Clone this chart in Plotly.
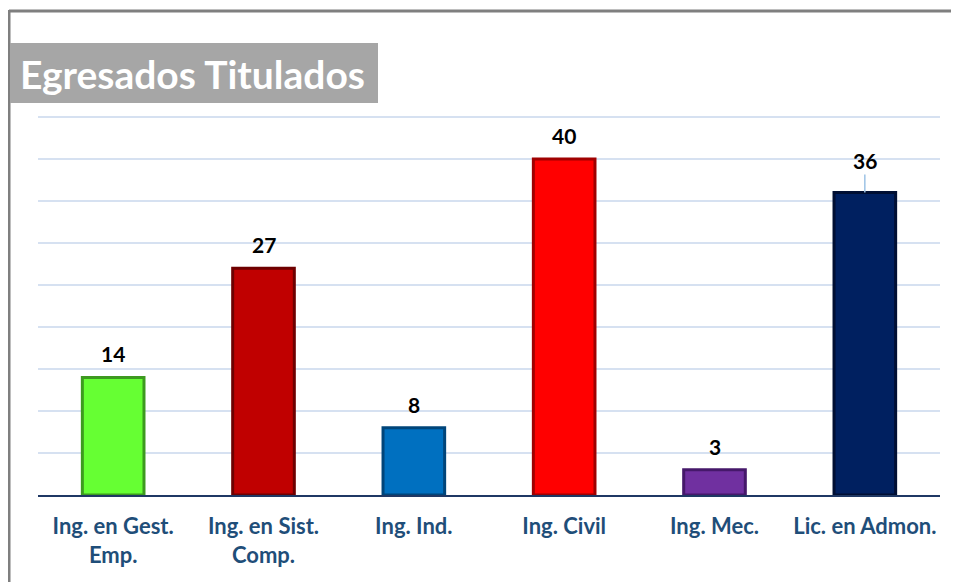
import plotly.graph_objects as go

# datos
carreras = ["Ing. en Gest.<br>Emp.", "Ing. en Sist.<br>Comp.", "Ing. Ind.",
            "Ing. Civil", "Ing. Mec.", "Lic. en Admon."]
titulados = [14, 27, 8, 40, 3, 36]
colores = ["#66ff33", "#c00000", "#0070c0", "#ff0000", "#7030a0", "#002060"]
bordes = ["#3d9a1f", "#6e0000", "#00457a", "#a00000", "#45186a", "#000f33"]

# la pagina tiene un margen de 8px, se compensa aqui
OFF = 8
W, H = 959 - OFF, 582 - OFF
L, R, T, B = 38 - OFF, 19, 115 - OFF, 87
YMAX = 45 + 2 / 8.4


def px_x(p):
    return (p - OFF - L) / (W - L - R)


def px_y(p):
    return (H - B - (p - OFF)) / (H - T - B)


fig = go.Figure()
fig.add_trace(go.Bar(
    x=carreras, y=titulados,
    marker=dict(color=colores, line=dict(color=bordes, width=3)),
    hoverinfo="x+y",
))

# etiquetas de datos
for c, v in zip(carreras, titulados):
    if v == 36:
        fig.add_annotation(x=c, y=v, text="<b>%d</b>" % v, showarrow=True,
                           ax=0, ay=-32, arrowhead=0, arrowwidth=1.5,
                           arrowcolor="#9dc3e6", standoff=0,
                           font=dict(family="Lato", size=21, color="black"))
    else:
        fig.add_annotation(x=c, y=v, text="<b>%d</b>" % v, showarrow=False,
                           yanchor="bottom", yshift=9,
                           font=dict(family="Lato", size=21, color="black"))

# marco y titulo
fig.add_shape(type="line", xref="paper", yref="paper",
              x0=px_x(9), x1=px_x(959 + 5), y0=px_y(11), y1=px_y(11),
              line=dict(color="#7f7f7f", width=3))
fig.add_shape(type="line", xref="paper", yref="paper",
              x0=px_x(9), x1=px_x(9), y0=px_y(10), y1=px_y(582 + 5),
              line=dict(color="#7f7f7f", width=3))
fig.add_shape(type="rect", xref="paper", yref="paper",
              x0=px_x(10), x1=px_x(378), y0=px_y(103), y1=px_y(43),
              fillcolor="#a6a6a6", line=dict(width=0))
fig.add_annotation(xref="paper", yref="paper", x=px_x(18), y=px_y(74),
                   xanchor="left", yanchor="middle", showarrow=False,
                   text="<b>Egresados Titulados</b>",
                   font=dict(family="Lato", size=39, color="white"))

fig.update_layout(
    width=W, height=H,
    margin=dict(l=L, r=R, t=T, b=B),
    paper_bgcolor="white", plot_bgcolor="white",
    showlegend=False, bargap=0.59,
    font=dict(family="Lato"),
)
fig.update_xaxes(showline=True, linecolor="#1f3864", linewidth=2,
                 tickfont=dict(family="Lato", size=22, color="#1f4e79",
                               weight="bold"),
                 ticks="", ticklabelstandoff=11)
fig.update_yaxes(range=[0, YMAX], tick0=0, dtick=5, showticklabels=False,
                 gridcolor="#d6e1f1", gridwidth=2, zeroline=False)

fig.write_html("out.html")
